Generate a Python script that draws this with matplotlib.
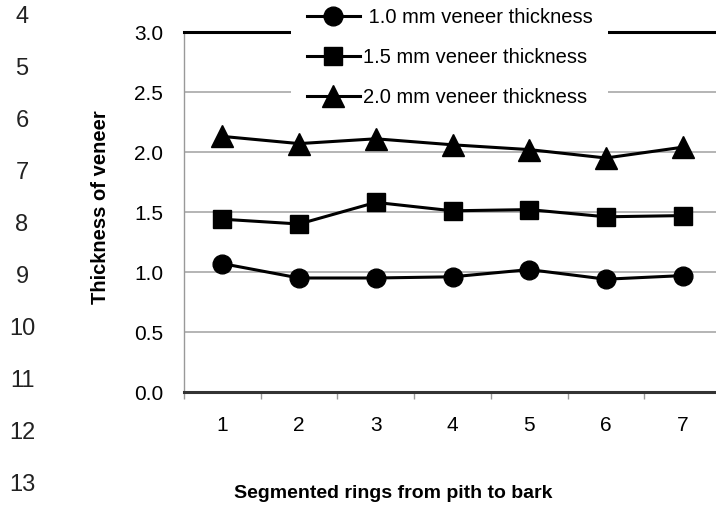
import numpy as np
import matplotlib
matplotlib.use("Agg")
import matplotlib.pyplot as plt
from matplotlib.ticker import FixedLocator

plt.rcParams['font.family'] = ['Liberation Sans', 'DejaVu Sans']

# data
rings = [1, 2, 3, 4, 5, 6, 7]
v10 = [1.07, 0.95, 0.95, 0.96, 1.02, 0.94, 0.97]
v15 = [1.44, 1.40, 1.58, 1.51, 1.52, 1.46, 1.47]
v20 = [2.13, 2.07, 2.11, 2.06, 2.02, 1.95, 2.04]
labels = [" 1.0 mm veneer thickness", "1.5 mm veneer thickness", "2.0 mm veneer thickness"]
line_numbers = ["4", "5", "6", "7", "8", "9", "10", "11", "12", "13"]

fig = plt.figure(figsize=(7.16, 5.08), dpi=100)
# axes runs a little past the right edge, like the cropped original
ax = fig.add_axes([184/716, 116/508, 537/716, 360/508])

ax.plot(rings, v10, color='black', lw=2.2, marker='o', ms=13.5, label=labels[0], zorder=3)
ax.plot(rings, v15, color='black', lw=2.2, marker='s', ms=13, label=labels[1], zorder=3)
ax.plot(rings, v20, color='black', lw=2.2, marker='^', ms=16, label=labels[2], zorder=3)

ax.set_xlim(0.5, 7.5)
ax.set_ylim(0, 3.0)
ax.set_yticks(np.arange(0, 3.01, 0.5))
ax.set_yticklabels([f"{v:.1f}" for v in np.arange(0, 3.01, 0.5)])
ax.set_xticks(rings)
ax.xaxis.set_minor_locator(FixedLocator(np.arange(0.5, 7.6, 1)))
ax.tick_params(axis='x', which='major', length=0, pad=17, labelsize=15)
ax.tick_params(axis='x', which='minor', length=5, width=1, color='#999999')
ax.tick_params(axis='y', length=0, pad=15, labelsize=15)

ax.grid(axis='y', color='#a8a8a8', lw=1.2)
ax.set_axisbelow(True)

ax.spines['right'].set_visible(False)
ax.spines['left'].set_color('#999999')
ax.spines['left'].set_linewidth(1)
ax.spines['bottom'].set_color('#333333')
ax.spines['bottom'].set_linewidth(2.2)
ax.spines['top'].set_color('black')
ax.spines['top'].set_linewidth(2.2)

ax.set_xlabel("Segmented rings from pith to bark", fontsize=14, fontweight='bold')
ax.xaxis.set_label_coords((393-184)/537, (392-494)/360)
ax.xaxis.label.set_va('center')
ax.set_ylabel("Thickness of veneer", fontsize=14.5, fontweight='bold')
ax.yaxis.set_label_coords((100-184)/537, (392-207)/360)
ax.yaxis.label.set_va('center')

leg = ax.legend(loc='upper left', bbox_to_anchor=(281/716, 1.035), bbox_transform=fig.transFigure,
                frameon=True, facecolor='white', edgecolor='none', framealpha=1,
                fontsize=14.5, handlelength=2.6, handletextpad=0.15, labelspacing=1.03,
                borderpad=0.8, fancybox=False)
leg.set_zorder(5)

# page line numbers in the margin
for i, n in enumerate(line_numbers):
    fig.text(22/716, 1 - (17 + 52*i)/508, n, ha='center', va='center', fontsize=17, color='#222222')

fig.savefig("out.png", dpi=100)
